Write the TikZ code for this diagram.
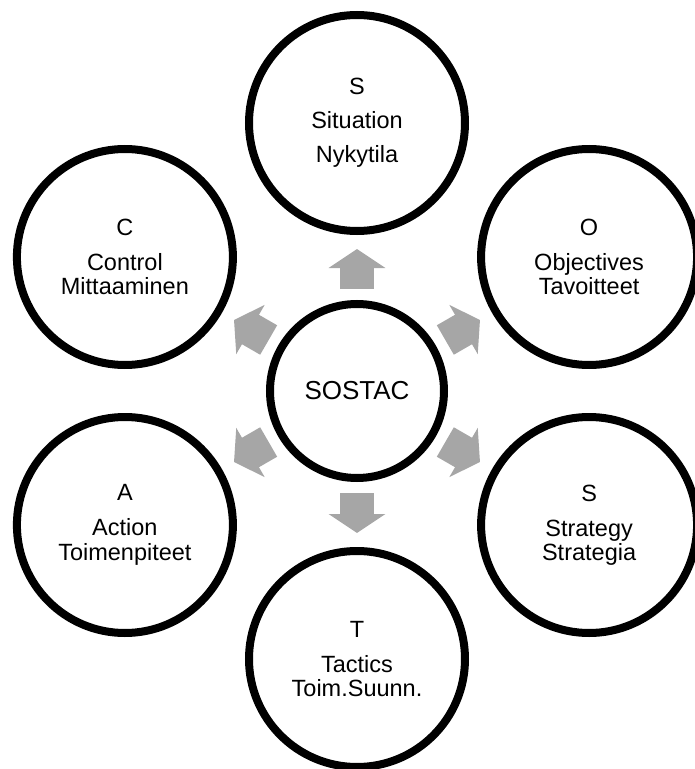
\documentclass[tikz,border=0pt]{standalone}
\usepackage{fontspec}
\setmainfont{Liberation Sans}
\usetikzlibrary{arrows.meta, calc, positioning}

\definecolor{arrowgray}{HTML}{A6A6A6}

\tikzset{
  stage/.style = {circle, draw=black, line width=8pt, fill=white, minimum size=216pt,
                  inner sep=0pt, align=center, font=\fontsize{23.5}{24.5}\selectfont},
  hub/.style   = {circle, draw=black, line width=8pt, fill=white, minimum size=174pt,
                  inner sep=0pt, font=\fontsize{26}{28}\selectfont},
  flow/.style  = {arrowgray, line width=34pt, shorten <=11pt, shorten >=14pt,
                  -{Triangle[length=19pt, width=56pt]}}
}

\begin{document}
\begin{tikzpicture}[x=1pt, y=1pt]
    \useasboundingbox (-357,-378) rectangle (337,391);

    \coordinate (c00) at (0,0);
    \coordinate (c01) at ( 90:268);
    \coordinate (c02) at ( 30:268);
    \coordinate (c03) at (-30:268);
    \coordinate (c04) at (-90:268);
    \coordinate (c05) at (210:268);
    \coordinate (c06) at (150:268);

    \node[hub]   (hub) at (c00) {SOSTAC};

    \node[stage] (s1) at (c01) {S\\[9.5pt]Situation\\[9.5pt]Nykytila};
    \node[stage] (s2) at (c02) {O\\[10.5pt]Objectives\\Tavoitteet};
    \node[stage] (s3) at (c03) {S\\[10.5pt]Strategy\\Strategia};
    \node[stage] (s4) at (c04) {T\\[10.5pt]Tactics\\Toim.Suunn.};
    \node[stage] (s5) at (c05) {A\\[10.5pt]Action\\Toimenpiteet};
    \node[stage] (s6) at (c06) {C\\[10.5pt]Control\\Mittaaminen};

    \foreach \s in {s1, s2, s3, s4, s5, s6}
      \draw[flow] (hub) -- (\s);
\end{tikzpicture}
\end{document}
